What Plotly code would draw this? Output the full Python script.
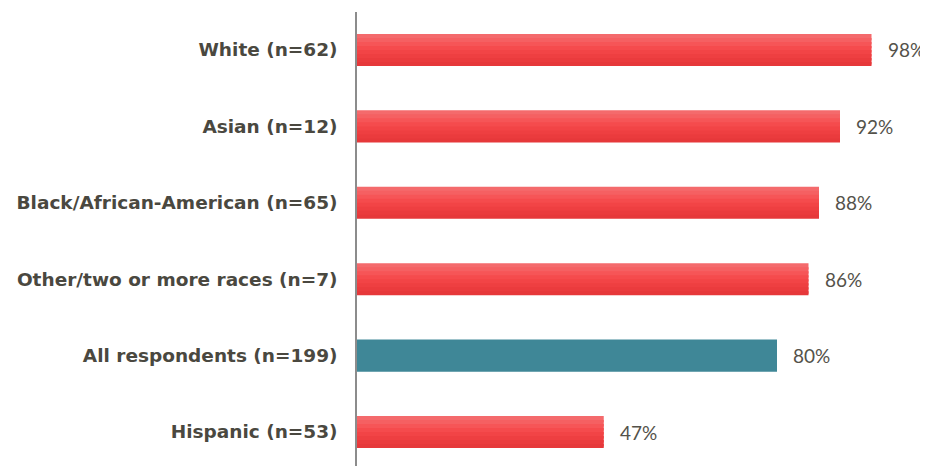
import plotly.graph_objects as go

categories = ["White (n=62)", "Asian (n=12)", "Black/African-American (n=65)",
              "Other/two or more races (n=7)", "All respondents (n=199)", "Hispanic (n=53)"]
values = [98, 92, 88, 86, 80, 47]
highlight = "All respondents (n=199)"

red_grad = ["#F46A6C", "#F56062", "#F65557", "#F54B4D", "#F24446", "#EE3F41", "#EA3B3D", "#E6383A"]
teal = "#3F8797"
BAR_W = 0.42

fig = go.Figure()
red_cats = [c for c in categories if c != highlight]
red_vals = [v for c, v in zip(categories, values) if c != highlight]
n = len(red_grad)
sw = BAR_W / n
for i, col in enumerate(red_grad):
    extra = 1.6 if i < n - 1 else 1.0
    fig.add_trace(go.Bar(
        y=red_cats, x=red_vals, orientation="h",
        width=sw * extra, offset=-BAR_W / 2 + i * sw,
        marker=dict(color=col, line=dict(width=0)),
        hoverinfo="skip", showlegend=False,
    ))
fig.add_trace(go.Bar(
    y=[highlight], x=[values[categories.index(highlight)]], orientation="h",
    width=BAR_W, offset=-BAR_W / 2,
    marker=dict(color=teal, line=dict(width=0)),
    showlegend=False,
))

for c, v in zip(categories, values):
    fig.add_annotation(x=v, y=c, text=f"{v}%", showarrow=False,
                       xanchor="left", xshift=14,
                       font=dict(family="Lato", size=19, color="#54524A"))

# page body has an 8px margin, so the figure is sized to fit the remaining window
fig.update_layout(
    width=920, height=458,
    margin=dict(l=349, r=4, t=4, b=0, autoexpand=False),
    paper_bgcolor="white", plot_bgcolor="white",
    barmode="overlay",
    xaxis=dict(range=[0, 108], visible=False),
    yaxis=dict(categoryorder="array", categoryarray=categories,
               range=[5.445, -0.497], showline=True, linecolor="#8C8C8C", linewidth=1.5,
               showgrid=False, zeroline=False, ticks="",
               ticklabelstandoff=14,
               tickfont=dict(family="DejaVu Sans", size=18.5, color="#4A4840", weight="bold")),
)

fig.write_html("out.html")
